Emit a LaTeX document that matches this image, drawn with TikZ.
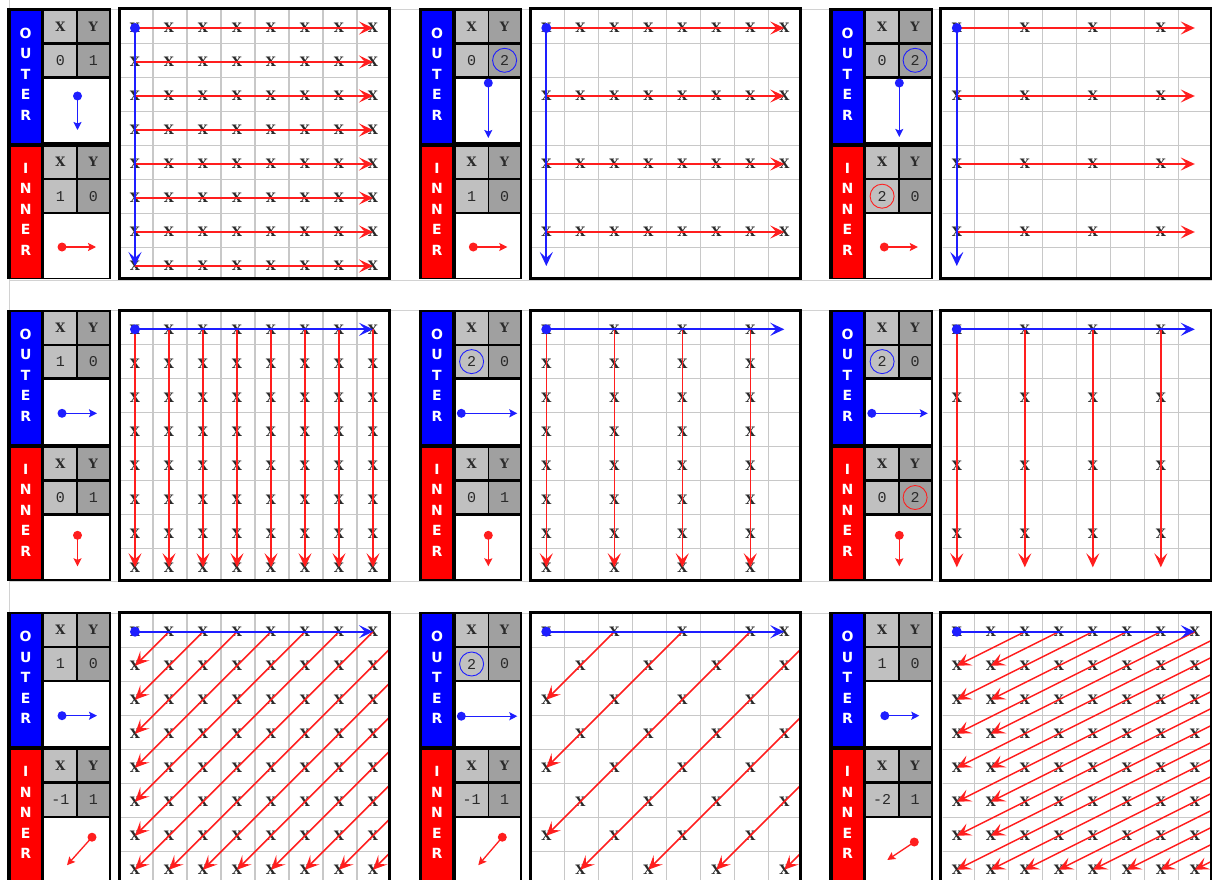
\documentclass[tikz,border=0pt]{standalone}
\usepackage{fontspec}
\setmainfont{Liberation Sans}
\newfontfamily\monof{Liberation Mono}
\newfontfamily\wide{DejaVu Sans}
\newfontfamily\markf{DejaVu Serif}
\usetikzlibrary{arrows.meta}
\definecolor{hdrL}{HTML}{C0C0C0}
\definecolor{hdrD}{HTML}{A0A0A0}
\definecolor{gridc}{HTML}{C8C8C8}
\definecolor{sheet}{HTML}{D2D2D2}
\definecolor{arrR}{HTML}{FF1E1E}
\definecolor{arrB}{HTML}{1E1EFF}
\definecolor{ink}{HTML}{2A2A2A}
\tikzset{
  gridline/.style={gridc, line width=1.2pt},
  sheetline/.style={sheet, line width=1pt},
  markx/.style={font=\markf\bfseries\fontsize{13}{13}\selectfont, inner sep=0pt, text=ink},
  redarr/.style={draw=arrR, line width=1.5pt, -{Stealth[length=14pt,width=13pt,inset=6pt]}},
  bluearr/.style={draw=arrB, line width=1.9pt, -{Stealth[length=14pt,width=13pt,inset=6pt]}},
  gdot/.style={circle, fill=arrB, inner sep=0pt, minimum size=10pt},
  legB/.style={draw=arrB, line width=1.3pt, -{Stealth[length=8pt,width=8pt,inset=1.5pt]}},
  legR/.style={draw=arrR, line width=1.3pt, -{Stealth[length=8pt,width=8pt,inset=1.5pt]}},
  ldotB/.style={circle, fill=arrB, inner sep=0pt, minimum size=9pt},
  ldotR/.style={circle, fill=arrR, inner sep=0pt, minimum size=9pt},
  letter/.style={text=white, font=\wide\bfseries\fontsize{14}{14}\selectfont, inner sep=0pt},
  hdr/.style={font=\markf\bfseries\fontsize{13}{13}\selectfont, inner sep=0pt, text=ink},
  val/.style={font=\monof\fontsize{15}{15}\selectfont, inner sep=0pt, text=ink},
  plain/.style={},
  cb/.style={circle, draw=arrB, line width=0.9pt, minimum size=24pt},
  cr/.style={circle, draw=arrR, line width=0.9pt, minimum size=24pt}
}
\newcommand\ctrlblk[9]{%
  \fill[black] (7.3,8.3) rectangle (111,279.3);
  \fill[blue] (10.7,10.7) rectangle (40.7,142.7);
  \fill[red] (10.7,146.7) rectangle (40.7,277.7);
  \fill[hdrL] (44.3,10.7) rectangle (76.3,42.3);
  \fill[hdrD] (78,10.7) rectangle (108.7,42.3);
  \fill[hdrL] (44.3,44.7) rectangle (76.3,76);
  \fill[hdrD] (78,44.7) rectangle (108.7,76);
  \fill[white] (44.3,78.7) rectangle (108.7,142.3);
  \fill[hdrL] (44.3,146.7) rectangle (76.3,177.7);
  \fill[hdrD] (78,146.7) rectangle (108.7,177.7);
  \fill[hdrL] (44.3,180.3) rectangle (76.3,212);
  \fill[hdrD] (78,180.3) rectangle (108.7,212);
  \fill[white] (44.3,214.3) rectangle (108.7,277.7);
  \foreach \ch [count=\k] in {O,U,T,E,R}{\node[letter] (#1-o\k) at (25.7,{12.5+20.5*\k}) {\ch};}
  \foreach \ch [count=\k] in {I,N,N,E,R}{\node[letter] (#1-i\k) at (25.7,{147.5+20.5*\k}) {\ch};}
  \node[hdr] (#1-ohx) at (60.3,26.5) {X};
  \node[hdr] (#1-ohy) at (93.3,26.5) {Y};
  \node[val,#2] (#1-ovx) at (60.3,60.3) {#3};
  \node[val,#4] (#1-ovy) at (93.3,60.3) {#5};
  \node[hdr] (#1-ihx) at (60.3,162.2) {X};
  \node[hdr] (#1-ihy) at (93.3,162.2) {Y};
  \node[val,#6] (#1-ivx) at (60.3,196.2) {#7};
  \node[val,#8] (#1-ivy) at (93.3,196.2) {#9};
}
\newcommand\iconB[5]{\node[ldotB] (#1-d) at (#2,#3) {}; \coordinate (#1-t) at (#4,#5); \draw[legB] (#1-d.center) -- (#1-t);}
\newcommand\iconR[5]{\node[ldotR] (#1-d) at (#2,#3) {}; \coordinate (#1-t) at (#4,#5); \draw[legR] (#1-d.center) -- (#1-t);}
\newcommand\gridbox[2]{%
  \begin{scope}
    \fill[white] (118,9) rectangle (390,279);
    \clip (120.7,10) rectangle (388.3,277.7);
    \foreach \k in {0,...,8}{\draw[gridline] ({119+34*\k},0) -- ({119+34*\k},290); \draw[gridline] (110,{9.5+34*\k}) -- (400,{9.5+34*\k});}
    \begin{scope}[shift={(135,28)}, x=34pt, y=-34pt]
      #2
    \end{scope}
  \end{scope}
  \draw[line width=3pt] (119,8.7) rectangle (389.5,278.8);
}
\newcommand\blueH[1]{\coordinate (#1-oe) at (7,0); \draw[bluearr] (0,0) coordinate (#1-os) -- (#1-oe); \node[gdot] (#1-o) at (#1-os) {};}
\newcommand\blueV[1]{\coordinate (#1-oe) at (0,7); \draw[bluearr] (0,0) coordinate (#1-os) -- (#1-oe); \node[gdot] (#1-o) at (#1-os) {};}
\begin{document}
\begin{tikzpicture}[x=1pt,y=-1pt]
\useasboundingbox (0,0) rectangle (1212,880);
\clip (0,0) rectangle (1212,880);
\fill[white] (0,0) rectangle (1212,880);
\foreach \oy in {0,301.3,603.7}{\draw[sheetline] (9.3,{\oy+9.5}) -- (1212,{\oy+9.5}); \draw[sheetline] (9.3,{\oy+280}) -- (1212,{\oy+280});}
\draw[sheetline] (9.3,0) -- (9.3,880);
% ---------- Row 1 ----------
\begin{scope}[shift={(0,0)}]
\ctrlblk{A}{plain}{0}{plain}{1}{plain}{1}{plain}{0}
\iconB{A-oi}{77.5}{96}{77.5}{130}
\iconR{A-ii}{62}{247}{96}{247}
\gridbox{A}{%
  \foreach \i in {0,...,7}{\foreach \j in {0,...,7}{\node[markx] (A-\i-\j) at (\i,\j) {X};}}
  \foreach \j in {0,...,7}{\coordinate (A-s\j) at (0,\j); \coordinate (A-e\j) at (7,\j); \draw[redarr] (A-s\j) -- (A-e\j);}
  \blueV{A}}
\end{scope}
\begin{scope}[shift={(411.3,0)}]
\ctrlblk{B}{plain}{0}{cb}{2}{plain}{1}{plain}{0}
\iconB{B-oi}{77}{83}{77}{138}
\iconR{B-ii}{62}{247}{96}{247}
\gridbox{B}{%
  \foreach \i in {0,...,7}{\foreach \j in {0,2,4,6}{\node[markx] (B-\i-\j) at (\i,\j) {X};}}
  \foreach \j in {0,2,4,6}{\coordinate (B-s\j) at (0,\j); \coordinate (B-e\j) at (7,\j); \draw[redarr] (B-s\j) -- (B-e\j);}
  \blueV{B}}
\end{scope}
\begin{scope}[shift={(821.8,0)}]
\ctrlblk{C}{plain}{0}{cb}{2}{cr}{2}{plain}{0}
\iconB{C-oi}{77.5}{83}{77.5}{137}
\iconR{C-ii}{62.5}{247}{96}{247}
\gridbox{C}{%
  \foreach \i in {0,2,4,6}{\foreach \j in {0,2,4,6}{\node[markx] (C-\i-\j) at (\i,\j) {X};}}
  \foreach \j in {0,2,4,6}{\coordinate (C-s\j) at (0,\j); \coordinate (C-e\j) at (7,\j); \draw[redarr] (C-s\j) -- (C-e\j);}
  \blueV{C}}
\end{scope}
% ---------- Row 2 ----------
\begin{scope}[shift={(0,301.3)}]
\ctrlblk{D}{plain}{1}{plain}{0}{plain}{0}{plain}{1}
\iconB{D-oi}{62}{112}{97}{112}
\iconR{D-ii}{77.5}{234}{77.5}{265}
\gridbox{D}{%
  \foreach \i in {0,...,7}{\foreach \j in {0,...,7}{\node[markx] (D-\i-\j) at (\i,\j) {X};}}
  \foreach \i in {0,...,7}{\coordinate (D-s\i) at (\i,0); \coordinate (D-e\i) at (\i,7); \draw[redarr] (D-s\i) -- (D-e\i);}
  \blueH{D}}
\end{scope}
\begin{scope}[shift={(411.3,301.3)}]
\ctrlblk{E}{cb}{2}{plain}{0}{plain}{0}{plain}{1}
\iconB{E-oi}{50}{112}{106}{112}
\iconR{E-ii}{77}{234}{77}{265}
\gridbox{E}{%
  \foreach \i in {0,2,4,6}{\foreach \j in {0,...,7}{\node[markx] (E-\i-\j) at (\i,\j) {X};}}
  \foreach \i in {0,2,4,6}{\coordinate (E-s\i) at (\i,0); \coordinate (E-e\i) at (\i,7); \draw[redarr] (E-s\i) -- (E-e\i);}
  \blueH{E}}
\end{scope}
\begin{scope}[shift={(821.8,301.3)}]
\ctrlblk{F}{cb}{2}{plain}{0}{plain}{0}{cr}{2}
\iconB{F-oi}{50}{112}{106}{112}
\iconR{F-ii}{77.5}{234}{77.5}{265}
\gridbox{F}{%
  \foreach \i in {0,2,4,6}{\foreach \j in {0,2,4,6}{\node[markx] (F-\i-\j) at (\i,\j) {X};}}
  \foreach \i in {0,2,4,6}{\coordinate (F-s\i) at (\i,0); \coordinate (F-e\i) at (\i,7); \draw[redarr] (F-s\i) -- (F-e\i);}
  \blueH{F}}
\end{scope}
% ---------- Row 3 ----------
\begin{scope}[shift={(0,603.7)}]
\ctrlblk{G}{plain}{1}{plain}{0}{plain}{-1}{plain}{1}
\iconB{G-oi}{62}{112}{97}{112}
\iconR{G-ii}{92}{233.5}{67}{261.5}
\gridbox{G}{%
  \foreach \i in {0,...,7}{\foreach \j in {0,...,7}{\node[markx] (G-\i-\j) at (\i,\j) {X};}}
  \foreach \s in {1,...,14}{%
    \ifnum\s<8 \edef\ex{0}\edef\ey{\s}\else \pgfmathtruncatemacro\ex{\s-7}\edef\ey{7}\fi
    \coordinate (G-s\s) at (\s,0); \coordinate (G-e\s) at (\ex,\ey); \draw[redarr] (G-s\s) -- (G-e\s);}
  \blueH{G}}
\end{scope}
\begin{scope}[shift={(411.3,603.7)}]
\ctrlblk{H}{cb}{2}{plain}{0}{plain}{-1}{plain}{1}
\iconB{H-oi}{50}{112.5}{106}{112.5}
\iconR{H-ii}{91}{233.5}{67}{261.5}
\gridbox{H}{%
  \foreach \i in {0,...,7}{\foreach \j in {0,...,7}{\pgfmathtruncatemacro\pp{mod(\i+\j,2)}\ifnum\pp=0 \node[markx] (H-\i-\j) at (\i,\j) {X};\fi}}
  \node[markx] (H-7-0) at (7,0) {X};
  \foreach \s in {2,4,...,14}{%
    \ifnum\s<8 \edef\ex{0}\edef\ey{\s}\else \pgfmathtruncatemacro\ex{\s-7}\edef\ey{7}\fi
    \coordinate (H-s\s) at (\s,0); \coordinate (H-e\s) at (\ex,\ey); \draw[redarr] (H-s\s) -- (H-e\s);}
  \blueH{H}}
\end{scope}
\begin{scope}[shift={(821.8,603.7)}]
\ctrlblk{I}{plain}{1}{plain}{0}{plain}{-2}{plain}{1}
\iconB{I-oi}{63}{112}{97.5}{112}
\iconR{I-ii}{92.5}{238.3}{65.5}{256.3}
\gridbox{I}{%
  \foreach \i in {0,...,7}{\foreach \j in {0,...,7}{\node[markx] (I-\i-\j) at (\i,\j) {X};}}
  \foreach \s in {2,...,21}{%
    \pgfmathtruncatemacro\kk{floor(\s/2)}\pgfmathtruncatemacro\cc{mod(\s,2)}%
    \ifnum\kk<8 \edef\ex{\cc}\edef\ey{\kk}\else \pgfmathtruncatemacro\ex{\s-14}\edef\ey{7}\fi
    \coordinate (I-s\s) at (\s,0); \coordinate (I-e\s) at (\ex,\ey); \draw[redarr] (I-s\s) -- (I-e\s);}
  \blueH{I}}
\end{scope}
\end{tikzpicture}
\end{document}
